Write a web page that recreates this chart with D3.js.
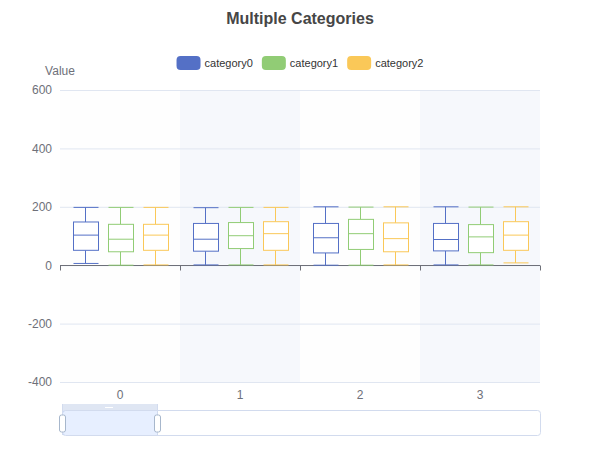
<!DOCTYPE html>
<html>
<head>
<meta charset="utf-8">
<script src="https://cdn.jsdelivr.net/npm/d3@7"></script>
<style>
  body { margin: 0; background: #fff; }
  svg { font-family: "Liberation Sans", Arial, sans-serif; }
</style>
</head>
<body>
<svg id="chart" width="600" height="450"></svg>
<script>
// categories on the x axis and the series shown in the legend
const categories = ["0", "1", "2", "3"];
const seriesNames = ["category0", "category1", "category2"];
const seriesColors = ["#5470c6", "#91cc75", "#fac858"];

// box stats per category: [min, Q1, median, Q3, max]
const category0Boxes = [[6, 51, 103, 148, 198], [1, 48, 89, 143, 197], [0, 42, 94, 143, 200], [1, 49, 88, 143, 200]];
const category1Boxes = [[0, 46, 89, 140, 198], [1, 57, 101, 146, 198], [0, 54, 108, 157, 199], [1, 43, 97, 139, 199]];
const category2Boxes = [[1, 51, 103, 140, 198], [1, 51, 108, 149, 198], [1, 46, 91, 145, 200], [8, 51, 103, 149, 200]];

const yTicks = [-400, -200, 0, 200, 400, 600];

const allBoxes = [category0Boxes, category1Boxes, category2Boxes];

// Set up sizing constants
const margin = {top: 90, right: 60, bottom: 68, left: 60};
const svgWidth = 600;
const svgHeight = 450;
const width = svgWidth - margin.left - margin.right;
const height = svgHeight - margin.top - margin.bottom;
const boxWidth = 25;

const svg = d3.select("svg#chart");

// Create the scales
const xScale = d3.scaleBand()
  .domain(categories)
  .range([margin.left, margin.left + width]);

const xInner = d3.scaleBand()
  .domain(seriesNames)
  .range([-52.5, 52.5]);

const yScale = d3.scaleLinear()
  .domain([-400, 600])
  .range([margin.top + height, margin.top]);

// alternating split areas
svg.append("g").selectAll("rect")
  .data(categories)
  .enter()
  .append("rect")
  .attr("x", d => xScale(d))
  .attr("y", margin.top)
  .attr("width", xScale.bandwidth())
  .attr("height", height)
  .attr("fill", (d, i) => i % 2 ? "rgba(210,219,238,0.2)" : "rgba(250,250,250,0.2)");

// horizontal grid lines + y labels
const yAxis = d3.axisLeft(yScale)
  .tickValues(yTicks)
  .tickFormat(d => String(d))
  .tickSize(-width)
  .tickPadding(8);

const yAxisG = svg.append("g")
  .attr("transform", "translate(" + margin.left + ",0)")
  .call(yAxis);
yAxisG.select(".domain").remove();
yAxisG.selectAll(".tick line").attr("stroke", "#E0E6F1");
yAxisG.selectAll(".tick text")
  .attr("fill", "#6E7079")
  .style("font-size", "12px");

svg.append("text")
  .attr("x", margin.left)
  .attr("y", 75)
  .attr("text-anchor", "middle")
  .attr("fill", "#6E7079")
  .style("font-size", "12px")
  .text("Value");

// x axis line sits on zero
const zeroY = Math.round(yScale(0)) + 0.5;
const xAxisG = svg.append("g");
xAxisG.append("line")
  .attr("x1", margin.left).attr("x2", margin.left + width)
  .attr("y1", zeroY).attr("y2", zeroY)
  .attr("stroke", "#6E7079");
xAxisG.selectAll("line.tick")
  .data(categories.concat(["end"]))
  .enter()
  .append("line")
  .attr("class", "tick")
  .attr("x1", (d, i) => Math.round(margin.left + i * xScale.bandwidth()) + 0.5)
  .attr("x2", (d, i) => Math.round(margin.left + i * xScale.bandwidth()) + 0.5)
  .attr("y1", zeroY).attr("y2", zeroY + 5)
  .attr("stroke", "#6E7079");

svg.append("g").selectAll("text")
  .data(categories)
  .enter()
  .append("text")
  .attr("x", d => xScale(d) + xScale.bandwidth() / 2)
  .attr("y", margin.top + height + 17)
  .attr("text-anchor", "middle")
  .attr("fill", "#6E7079")
  .style("font-size", "12px")
  .text(d => d);

// the boxes
allBoxes.forEach(function(boxes, si) {
  const color = seriesColors[si];
  const g = svg.append("g")
    .attr("stroke", color)
    .attr("stroke-width", 1)
    .attr("fill", "#fff");
  boxes.forEach(function(b, ci) {
    const cx = xScale(categories[ci]) + xScale.bandwidth() / 2 + xInner(seriesNames[si]) + xInner.bandwidth() / 2;
    const x0 = Math.round(cx - boxWidth / 2) + 0.5;
    const x1 = x0 + boxWidth;
    const xm = Math.round(cx) + 0.5;
    const yMin = yScale(b[0]), yQ1 = yScale(b[1]), yMed = yScale(b[2]), yQ3 = yScale(b[3]), yMax = yScale(b[4]);
    g.append("line").attr("x1", xm).attr("x2", xm).attr("y1", yMax).attr("y2", yQ3);
    g.append("line").attr("x1", xm).attr("x2", xm).attr("y1", yQ1).attr("y2", yMin);
    g.append("line").attr("x1", x0).attr("x2", x1).attr("y1", yMax).attr("y2", yMax);
    g.append("line").attr("x1", x0).attr("x2", x1).attr("y1", yMin).attr("y2", yMin);
    g.append("rect").attr("x", x0).attr("y", yQ3).attr("width", boxWidth).attr("height", yQ1 - yQ3);
    g.append("line").attr("x1", x0).attr("x2", x1).attr("y1", yMed).attr("y2", yMed);
  });
});

// title
svg.append("text")
  .attr("x", svgWidth / 2)
  .attr("y", 24)
  .attr("text-anchor", "middle")
  .attr("fill", "#464646")
  .style("font-size", "16px")
  .style("font-weight", "bold")
  .text("Multiple Categories");

// legend, centered
const legend = svg.append("g");
let lx = 0;
seriesNames.forEach(function(name, i) {
  const item = legend.append("g").attr("transform", "translate(" + lx + ",0)");
  item.append("rect")
    .attr("x", 0).attr("y", -7)
    .attr("width", 24).attr("height", 14)
    .attr("rx", 4)
    .attr("fill", seriesColors[i]);
  const t = item.append("text")
    .attr("x", 28).attr("y", 4)
    .attr("fill", "#333")
    .style("font-size", "11px")
    .text(name);
  lx += 28 + t.node().getComputedTextLength() + 9;
});
legend.attr("transform", "translate(" + ((svgWidth - (lx - 9)) / 2) + ",63)");

// data zoom slider
const dz = svg.append("g");
dz.append("rect")
  .attr("x", 62.5).attr("y", 410.5)
  .attr("width", 478).attr("height", 25)
  .attr("rx", 3)
  .attr("fill", "none")
  .attr("stroke", "#d2dbee");
dz.append("rect")
  .attr("x", 62).attr("y", 404)
  .attr("width", 95).attr("height", 7)
  .attr("fill", "#d2dbee")
  .attr("opacity", 0.7);
dz.append("rect")
  .attr("x", 62).attr("y", 411)
  .attr("width", 95).attr("height", 24)
  .attr("fill", "rgba(135,175,255,0.2)");
dz.append("line")
  .attr("x1", 105).attr("x2", 113)
  .attr("y1", 407.5).attr("y2", 407.5)
  .attr("stroke", "#fff");
[62.5, 157.5].forEach(function(hx) {
  dz.append("line")
    .attr("x1", hx).attr("x2", hx)
    .attr("y1", 404).attr("y2", 435)
    .attr("stroke", "#d2dbee");
  dz.append("rect")
    .attr("x", hx - 3).attr("y", 415)
    .attr("width", 6).attr("height", 17)
    .attr("rx", 2)
    .attr("fill", "#fff")
    .attr("stroke", "#a7b7cc");
});
</script>
</body>
</html>
